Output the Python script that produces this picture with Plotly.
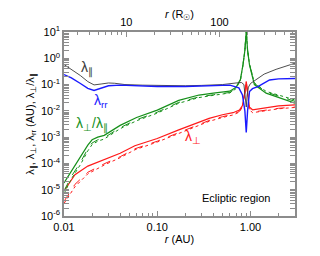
import plotly.graph_objects as go

AU_TO_RSUN = 215.0

# ---- data ----
r_par = [0.01, 0.012, 0.015, 0.018, 0.021, 0.025, 0.03, 0.035, 0.045, 0.07, 0.1, 0.2, 0.3, 0.5,
         0.7, 0.8, 0.85, 0.88, 0.9, 0.92, 0.95, 1.0, 1.15, 1.4, 1.88, 2.4, 3.0]
lam_par = [0.58, 0.38, 0.22, 0.13, 0.097, 0.105, 0.115, 0.112, 0.1, 0.095, 0.092, 0.09, 0.093, 0.1,
           0.115, 0.12, 0.1, 0.04, 0.014, 0.04, 0.08, 0.11, 0.15, 0.25, 0.38, 0.5, 0.65]

r_rr = [0.01, 0.012, 0.015, 0.018, 0.021, 0.025, 0.03, 0.04, 0.06, 0.1, 0.2, 0.4, 0.6, 0.75,
        0.82, 0.87, 0.9, 0.93, 0.975, 1.05, 1.2, 1.6, 2.0, 3.0]
lam_rr = [0.24, 0.18, 0.11, 0.072, 0.06, 0.075, 0.09, 0.095, 0.09, 0.085, 0.085, 0.095, 0.095, 0.075,
          0.04, 0.01, 0.0015, 0.01, 0.054, 0.07, 0.083, 0.15, 0.165, 0.17]

r_ratio = [0.01, 0.012, 0.015, 0.018, 0.02, 0.023, 0.027, 0.031, 0.04, 0.06, 0.1, 0.17, 0.28, 0.4,
           0.6, 0.7, 0.78, 0.83, 0.87, 0.9, 0.93, 0.975, 1.1, 1.47, 2.0, 3.0]
ratio_solid = [1.8e-5, 5.0e-5, 1.6e-4, 5.0e-4, 7.9e-4, 1.0e-3, 1.17e-3, 1.6e-3, 2.8e-3, 5.6e-3,
               1.07e-2, 2.5e-2, 4.0e-2, 4.7e-2, 5.6e-2, 7.9e-2, 0.16, 0.56, 2.0, 11.0, 2.0, 0.56,
               0.10, 4.7e-2, 3.2e-2, 1.95e-2]
ratio_dash = [9.0e-6, 3.2e-5, 1.1e-4, 3.6e-4, 6.0e-4, 7.9e-4, 9.5e-4, 1.3e-3, 2.3e-3, 4.6e-3,
              8.9e-3, 2.1e-2, 3.4e-2, 4.1e-2, 5.0e-2, 7.2e-2, 0.15, 0.56, 2.0, 11.0, 2.0, 0.6,
              0.11, 5.2e-2, 3.6e-2, 2.3e-2]
ratio_dot = [7.0e-6, 2.6e-5, 9.0e-5, 3.0e-4, 5.2e-4, 7.0e-4, 8.5e-4, 1.15e-3, 2.1e-3, 4.2e-3,
             8.2e-3, 1.95e-2, 3.2e-2, 3.9e-2, 4.8e-2, 7.0e-2, 0.15, 0.56, 2.0, 11.0, 2.0, 0.62,
             0.115, 5.5e-2, 3.9e-2, 2.6e-2]

r_perp = [0.01, 0.0131, 0.018, 0.0275, 0.04, 0.0575, 0.1, 0.17, 0.28, 0.36, 0.5, 0.65, 0.76,
          0.82, 0.87, 0.9, 0.93, 0.97, 1.05, 1.3, 2.0, 3.0]
perp_solid = [8.9e-6, 3.7e-5, 7.9e-5, 1.45e-4, 2.45e-4, 4.7e-4, 8.9e-4, 1.9e-3, 3.7e-3, 5.2e-3,
              7.1e-3, 8.5e-3, 1.07e-2, 1.6e-2, 5.0e-2, 0.13, 5.0e-2, 1.4e-2, 1.1e-2, 1.25e-2,
              1.55e-2, 1.7e-2]
perp_dash = [3.6e-6, 1.6e-5, 4.6e-5, 1.0e-4, 1.8e-4, 3.6e-4, 7.0e-4, 1.5e-3, 3.0e-3, 4.3e-3,
             6.0e-3, 7.4e-3, 9.5e-3, 1.5e-2, 5.0e-2, 0.13, 5.0e-2, 1.2e-2, 9.0e-3, 1.0e-2,
             1.25e-2, 1.4e-2]
perp_dot = [3.0e-6, 1.3e-5, 4.0e-5, 9.0e-5, 1.65e-4, 3.3e-4, 6.5e-4, 1.4e-3, 2.8e-3, 4.0e-3,
            5.6e-3, 7.0e-3, 9.0e-3, 1.45e-2, 5.0e-2, 0.13, 5.0e-2, 1.15e-2, 8.5e-3, 9.5e-3,
            1.2e-2, 1.35e-2]

y_tick_exps = [1, 0, -1, -2, -3, -4, -5, -6]
x_tick_vals = [0.01, 0.1, 1.0]
x_tick_text = ["0.01", "0.10", "1.00"]
top_tick_vals = [10, 100]
top_tick_text = ["10", "100"]

GREEN = "#16901a"
RED = "#ff1a1a"
BLUE = "#1a1aff"
BLACK = "#3a3a3a"
AXC = "#8c8c8c"
FONT = "Liberation Sans, Arial, sans-serif"

fig = go.Figure()


def add(x, y, color, width, dash="solid"):
    fig.add_trace(go.Scatter(x=x, y=y, mode="lines", line=dict(color=color, width=width, dash=dash),
                             showlegend=False, hoverinfo="skip"))


add(r_perp, perp_dot, RED, 1.0, "dot")
add(r_perp, perp_dash, RED, 1.0, "dash")
add(r_perp, perp_solid, RED, 1.2)
add(r_ratio, ratio_dot, GREEN, 1.0, "dot")
add(r_ratio, ratio_dash, GREEN, 1.0, "dash")
add(r_ratio, ratio_solid, GREEN, 1.2)
add(r_par, lam_par, BLACK, 0.9)
add(r_rr, lam_rr, BLUE, 1.4)

# invisible trace for the top (solar radii) axis
fig.add_trace(go.Scatter(x=[0.01 * AU_TO_RSUN, 3.0 * AU_TO_RSUN], y=[1e-6, 1e-6], xaxis="x2",
                         mode="lines", line=dict(width=0), opacity=0, showlegend=False, hoverinfo="skip"))

minor_x = [m * 10.0 ** k for k in range(-2, 1) for m in range(2, 10)]
minor_top = [m * 10.0 ** k for k in range(0, 3) for m in range(2, 10)]
minor_y = [m * 10.0 ** k for k in range(-6, 1) for m in range(2, 10)]

tickfont = dict(family=FONT, size=11, color="black")

# the page body has an 8px default margin, so the figure is sized and offset to compensate
fig.update_layout(
    template="none",
    width=304, height=240,
    margin=dict(l=56, r=17, t=24, b=32, autoexpand=False),
    paper_bgcolor="white", plot_bgcolor="white",
    font=dict(family=FONT, size=11, color="black"),
    xaxis=dict(type="log", range=[-2, 0.477], tickmode="array", tickvals=x_tick_vals,
               ticktext=x_tick_text, ticks="inside", ticklen=5, tickcolor=AXC, showgrid=False,
               zeroline=False, showline=True, linecolor=AXC, linewidth=1.5, mirror=False,
               tickfont=tickfont, automargin=False,
               minor=dict(tickmode="array", tickvals=minor_x, ticks="inside", ticklen=3,
                          tickcolor=AXC, showgrid=False),
               title=dict(text="<i>r</i> (AU)", font=dict(size=11), standoff=2)),
    xaxis2=dict(type="log", overlaying="x", side="top", anchor="y",
                range=[0.3324, 2.8096], tickmode="array", tickvals=top_tick_vals,
                ticktext=top_tick_text, ticks="inside", ticklen=5, tickcolor=AXC, showgrid=False,
                zeroline=False, showline=True, linecolor=AXC, linewidth=1.5, tickfont=tickfont,
                automargin=False,
                minor=dict(tickmode="array", tickvals=minor_top, ticks="inside", ticklen=3,
                           tickcolor=AXC, showgrid=False),
                title=dict(text="<i>r</i> (R<sub>☉</sub>)", font=dict(size=11), standoff=2)),
    yaxis=dict(type="log", range=[-6, 1], tickmode="array",
               tickvals=[10.0 ** e for e in y_tick_exps],
               ticktext=["10<sup>%d</sup>" % e for e in y_tick_exps],
               ticks="inside", ticklen=5, tickcolor=AXC, showgrid=False, zeroline=False,
               showline=True, linecolor=AXC, linewidth=1.5, mirror="allticks", tickfont=tickfont,
               automargin=False,
               minor=dict(tickmode="array", tickvals=minor_y, ticks="inside", ticklen=3,
                          tickcolor=AXC, showgrid=False),
               title=dict(text="λ<sub>∥</sub>, λ<sub>⊥</sub>, λ<sub>rr</sub> (AU), λ<sub>⊥</sub>/λ<sub>∥</sub>",
                          font=dict(size=11), standoff=4)),
)

ann = [
    ("λ<sub>∥</sub>", 0.10, 0.80, BLACK),
    ("λ<sub>rr</sub>", 0.16, 0.625, BLUE),
    ("λ<sub>⊥</sub>/λ<sub>∥</sub>", 0.12, 0.495, GREEN),
    ("λ<sub>⊥</sub>", 0.56, 0.43, RED),
]
for text, xp, yp, col in ann:
    fig.add_annotation(text=text, x=xp, y=yp, xref="paper", yref="paper", showarrow=False,
                       font=dict(family=FONT, size=14, color=col), xanchor="center", yanchor="middle")
fig.add_annotation(text="Ecliptic region", x=0.745, y=0.098, xref="paper", yref="paper",
                   showarrow=False, font=dict(family=FONT, size=11, color="black"),
                   xanchor="center", yanchor="middle")

fig.write_html("out.html")
